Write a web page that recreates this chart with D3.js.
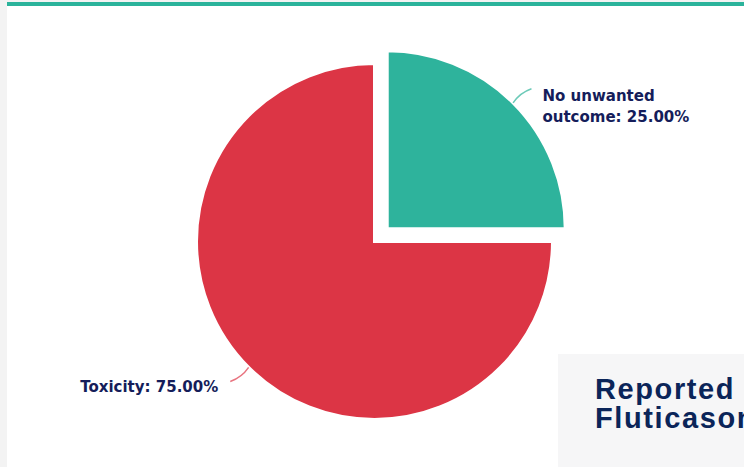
<!DOCTYPE html>
<html>
<head>
<meta charset="utf-8">
<script src="https://cdn.jsdelivr.net/npm/d3@7"></script>
<style>
  html, body { margin: 0; padding: 0; background: #f3f3f3; }
  svg { display: block; }
</style>
</head>
<body>
<svg id="chart" width="744" height="467"></svg>
<script>
// Outcome shares for the pie
const categories = ["No unwanted outcome", "Toxicity"];
const values = [25, 75];
const labelLines = [["No unwanted", "outcome: 25.00%"], ["Toxicity: 75.00%"]];
const colors = ["#2eb39c", "#dc3545"];
const leaderColors = ["#6ccab8", "#e8737f"];
const headingLines = ["Reported ADRs for", "Fluticasone"];

const W = 744, H = 467;
const svg = d3.select("#chart");

// page frame
svg.append("rect").attr("x", 0).attr("y", 0).attr("width", W).attr("height", H).attr("fill", "#f3f3f3");
svg.append("rect").attr("x", 7).attr("y", 6).attr("width", W - 7).attr("height", H - 6).attr("fill", "#ffffff");
svg.append("rect").attr("x", 7).attr("y", 2).attr("width", W - 7).attr("height", 4).attr("fill", "#2bb39b");

// heading panel in the lower right (runs past the right edge of the view)
svg.append("rect").attr("x", 558).attr("y", 354).attr("width", W - 558).attr("height", H - 354).attr("fill", "#f6f6f7");
const heading = svg.append("text")
  .attr("x", 595).attr("y", 399)
  .attr("font-family", "'Liberation Sans', Arial, sans-serif")
  .attr("font-weight", 700)
  .attr("font-size", 29)
  .attr("letter-spacing", 1.6)
  .attr("fill", "#0b2559");
heading.selectAll("tspan").data(headingLines).join("tspan")
  .attr("x", 595).attr("dy", (d, i) => i === 0 ? 0 : 29)
  .text(d => d);

// pie
const cx = 374.5, cy = 241.5, r = 178, explode = 18;
const pie = d3.pie().sort(null).value(d => d.value);
const arcs = pie(categories.map((c, i) => ({ name: c, value: values[i], i })));
const arc = d3.arc().innerRadius(0).outerRadius(r);
const mid = d => (d.startAngle + d.endAngle) / 2;
const polar = (a, rad) => [Math.sin(a) * rad, -Math.cos(a) * rad];

const g = svg.append("g").attr("transform", `translate(${cx},${cy})`);
const slice = g.selectAll("g.slice").data(arcs).join("g")
  .attr("class", "slice")
  .attr("transform", d => {
    const off = d.data.i === 0 ? explode : 0;
    const [x, y] = polar(mid(d), off);
    return `translate(${x},${y})`;
  });

slice.append("path")
  .attr("d", arc)
  .attr("fill", d => colors[d.data.i])
  .attr("stroke", "#ffffff")
  .attr("stroke-width", 3);

// gently curved leader lines
slice.append("path")
  .attr("fill", "none")
  .attr("stroke", d => leaderColors[d.data.i])
  .attr("stroke-width", 1.5)
  .attr("d", d => {
    const a = mid(d);
    const p0 = polar(a, r);
    const p1 = polar(a - 0.012, r + 12);
    const p2 = polar(a + 0.015, r + 23);
    return `M${p0[0]},${p0[1]}Q${p1[0]},${p1[1]} ${p2[0]},${p2[1]}`;
  });

// labels
slice.each(function(d) {
  const a = mid(d);
  const end = polar(a + 0.015, r + 23);
  const right = Math.sin(a) > 0;
  const t = d3.select(this).append("text")
    .attr("font-family", "'DejaVu Sans', sans-serif")
    .attr("font-weight", 700)
    .attr("font-size", 15)
    .attr("fill", "#151d5a")
    .attr("text-anchor", right ? "start" : "end");
  const x = right ? end[0] + 11 : end[0] - 12;
  const y0 = right ? end[1] + 12.5 : end[1] + 11;
  t.selectAll("tspan").data(labelLines[d.data.i]).join("tspan")
    .attr("x", x)
    .attr("y", (s, i) => y0 + i * 21)
    .text(s => s);
});
</script>
</body>
</html>
